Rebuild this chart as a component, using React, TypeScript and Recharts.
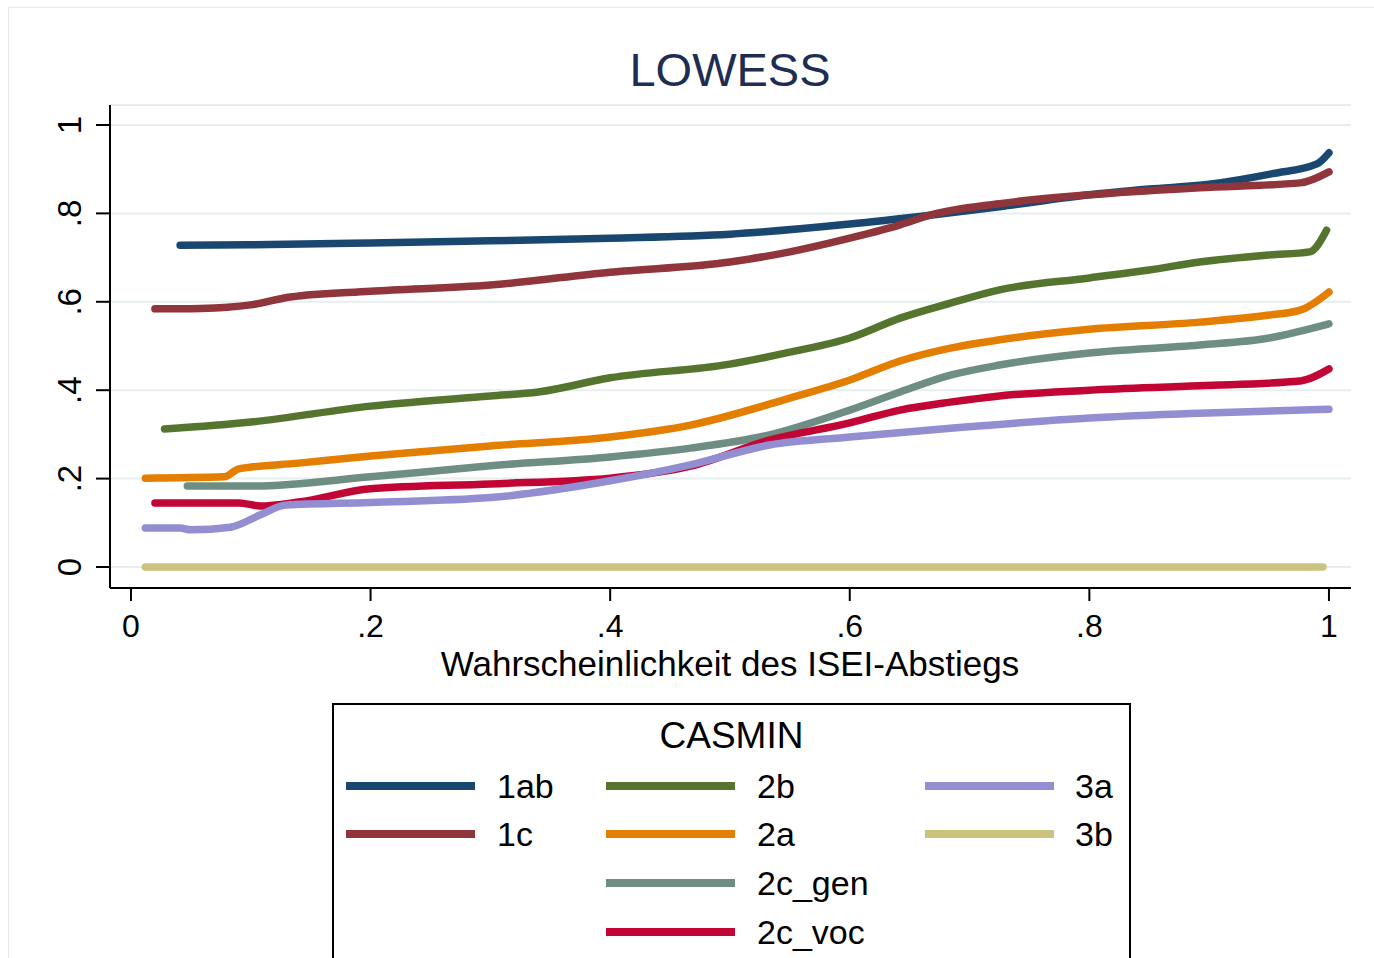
import React from 'react';
import { LineChart, Line, XAxis, YAxis, CartesianGrid } from 'recharts';

// LOWESS curves by CASMIN group
const xTicks = [0, 0.2, 0.4, 0.6, 0.8, 1];
const yTicks = [0, 0.2, 0.4, 0.6, 0.8, 1];
const tickLabels = ['0', '.2', '.4', '.6', '.8', '1'];

const x1ab = [0.041, 0.1, 0.2, 0.3, 0.4, 0.5, 0.6, 0.667, 0.725, 0.8, 0.85, 0.9, 0.953, 0.99, 1.0];
const y1ab = [0.728, 0.729, 0.733, 0.738, 0.744, 0.753, 0.776, 0.796, 0.815, 0.842, 0.855, 0.866, 0.89, 0.912, 0.937];

const x1c = [0.02, 0.058, 0.1, 0.133, 0.2, 0.3, 0.4, 0.5, 0.55, 0.6, 0.642, 0.667, 0.725, 0.8, 0.892, 0.976, 1.0];
const y1c = [0.584, 0.585, 0.593, 0.611, 0.624, 0.638, 0.667, 0.69, 0.713, 0.744, 0.774, 0.796, 0.822, 0.842, 0.858, 0.869, 0.894];

const x2b = [0.028, 0.1, 0.2, 0.3, 0.34, 0.4, 0.5, 0.55, 0.6, 0.642, 0.684, 0.725, 0.8, 0.85, 0.892, 0.95, 0.984, 0.998];
const y2b = [0.312, 0.328, 0.364, 0.387, 0.396, 0.428, 0.459, 0.486, 0.518, 0.563, 0.597, 0.627, 0.654, 0.672, 0.69, 0.706, 0.713, 0.762];

const x2a = [0.012, 0.078, 0.09, 0.14, 0.2, 0.3, 0.4, 0.467, 0.55, 0.6, 0.642, 0.684, 0.725, 0.8, 0.892, 0.95, 0.976, 1.0];
const y2a = [0.201, 0.204, 0.222, 0.235, 0.251, 0.274, 0.294, 0.321, 0.382, 0.423, 0.466, 0.495, 0.514, 0.538, 0.554, 0.57, 0.581, 0.622];

const x2cGen = [0.047, 0.1, 0.2, 0.26, 0.3, 0.4, 0.467, 0.533, 0.6, 0.642, 0.684, 0.725, 0.8, 0.892, 0.95, 1.0];
const y2cGen = [0.183, 0.183, 0.204, 0.219, 0.229, 0.249, 0.269, 0.299, 0.355, 0.396, 0.434, 0.457, 0.484, 0.502, 0.518, 0.55];

const x2cVoc = [0.02, 0.09, 0.108, 0.14, 0.2, 0.3, 0.4, 0.467, 0.533, 0.6, 0.642, 0.684, 0.725, 0.8, 0.892, 0.976, 1.0];
const y2cVoc = [0.145, 0.145, 0.138, 0.147, 0.177, 0.188, 0.201, 0.228, 0.287, 0.326, 0.355, 0.373, 0.387, 0.4, 0.41, 0.421, 0.448];

const x3a = [0.012, 0.041, 0.05, 0.083, 0.108, 0.129, 0.2, 0.3, 0.4, 0.467, 0.533, 0.6, 0.684, 0.8, 0.892, 1.0];
const y3a = [0.088, 0.088, 0.084, 0.09, 0.118, 0.14, 0.146, 0.157, 0.195, 0.231, 0.276, 0.294, 0.314, 0.337, 0.348, 0.357];

const x3b = [0.012, 0.995];
const y3b = [0, 0];

const toPoints = (xs: number[], ys: number[]) => xs.map((x, i) => ({ x, y: ys[i] }));

const series = [
  { name: '1ab', color: '#1a476f', data: toPoints(x1ab, y1ab) },
  { name: '1c', color: '#90353b', data: toPoints(x1c, y1c) },
  { name: '2b', color: '#55752f', data: toPoints(x2b, y2b) },
  { name: '2a', color: '#e37e00', data: toPoints(x2a, y2a) },
  { name: '2c_gen', color: '#6e8e84', data: toPoints(x2cGen, y2cGen) },
  { name: '2c_voc', color: '#c10534', data: toPoints(x2cVoc, y2cVoc) },
  { name: '3a', color: '#938dd2', data: toPoints(x3a, y3a) },
  { name: '3b', color: '#cac27e', data: toPoints(x3b, y3b) },
];

// legend columns as in the Stata legend (column-first)
const legendColumns = [['1ab', '1c'], ['2b', '2a', '2c_gen', '2c_voc'], ['3a', '3b']];

const FONT = '"Liberation Sans", Arial, sans-serif';

const fmt = (v: number) => tickLabels[xTicks.findIndex((t) => Math.abs(t - v) < 1e-6)] ?? String(v);

const YTick = (props: any) => {
  const { x, y, payload } = props;
  const cx = x - 24;
  return (
    <text x={cx} y={y} transform={`rotate(-90, ${cx}, ${y})`} textAnchor="middle" dominantBaseline="central"
      fontSize={33} fontFamily={FONT} fill="#000">
      {fmt(payload.value)}
    </text>
  );
};

const XTick = (props: any) => {
  const { x, y, payload } = props;
  return (
    <text x={x} y={y + 23} textAnchor="middle" dominantBaseline="central" fontSize={32} fontFamily={FONT} fill="#000">
      {fmt(payload.value)}
    </text>
  );
};

export default function App() {
  const colOffsets = [
    { line: 346, label: 497 },
    { line: 606, label: 757 },
    { line: 925, label: 1075 },
  ];
  const rowY = [786, 834, 883, 932];
  return (
    <div style={{ position: 'absolute', left: 0, top: 0, width: 1374, height: 958, overflow: 'hidden', background: '#fff', fontFamily: FONT }}>
      <div style={{ position: 'absolute', left: 8, top: 7, width: 1400, height: 1000, border: '1px solid #e3eaec' }} />
      <div style={{ position: 'absolute', left: 0, top: 0 }}>
        <LineChart width={1374} height={958} margin={{ top: 105, right: 23, left: 50, bottom: 290 }}>
          <CartesianGrid horizontal vertical={false} stroke="#e6eef0" strokeWidth={2} />
          <XAxis type="number" dataKey="x" domain={[-0.0175, 1.0184]} ticks={xTicks} interval={0}
            allowDataOverflow height={80} axisLine={{ stroke: '#000', strokeWidth: 2 }}
            tickLine={{ stroke: '#000', strokeWidth: 2 }} tickSize={13} tick={<XTick />} />
          <YAxis type="number" domain={[-0.0475, 1.0452]} ticks={yTicks} interval={0}
            allowDataOverflow width={60} axisLine={{ stroke: '#000', strokeWidth: 2 }}
            tickLine={{ stroke: '#000', strokeWidth: 2 }} tickSize={14} tick={<YTick />} />
          {series.map((s) => (
            <Line key={s.name} data={s.data} dataKey="y" type="monotone" stroke={s.color} strokeWidth={7.5}
              strokeLinecap="round" dot={false} activeDot={false} isAnimationActive={false} />
          ))}
        </LineChart>
      </div>
      <div style={{ position: 'absolute', left: 430, width: 600, top: 42, textAlign: 'center', fontSize: 47, lineHeight: '56px', color: '#1e2d53' }}>
        LOWESS
      </div>
      <div style={{ position: 'absolute', left: 330, width: 800, top: 646, textAlign: 'center', fontSize: 35, lineHeight: '36px', color: '#000' }}>
        Wahrscheinlichkeit des ISEI-Abstiegs
      </div>
      <div style={{ position: 'absolute', left: 332, top: 703, width: 795, height: 300, border: '2px solid #000' }} />
      <div style={{ position: 'absolute', left: 332, width: 799, top: 714, textAlign: 'center', fontSize: 37, lineHeight: '44px', color: '#000' }}>
        CASMIN
      </div>
      {legendColumns.map((col, ci) =>
        col.map((name, ri) => {
          const s = series.find((d) => d.name === name)!;
          return (
            <React.Fragment key={name}>
              <div style={{ position: 'absolute', left: colOffsets[ci].line, top: rowY[ri] - 4, width: 129, height: 8, background: s.color }} />
              <div style={{ position: 'absolute', left: colOffsets[ci].label, top: rowY[ri] - 20, fontSize: 34, lineHeight: '40px', color: '#000' }}>
                {name}
              </div>
            </React.Fragment>
          );
        })
      )}
    </div>
  );
}
